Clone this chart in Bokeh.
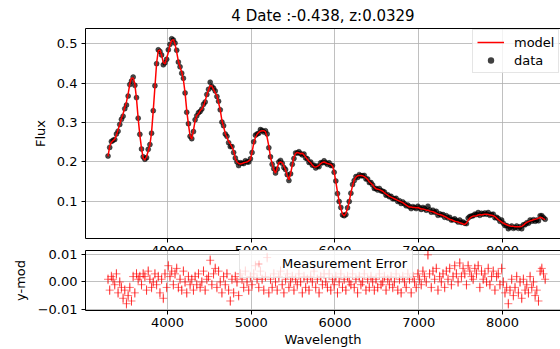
import numpy as np
from bokeh.plotting import figure
from bokeh.models import (Range1d, FixedTicker, LinearAxis, Legend, LegendItem,
                          Label, PrintfTickFormatter)
from bokeh.layouts import column
from bokeh.embed import file_html
from bokeh.resources import INLINE

# ---------------- data ----------------
wave_start = 3290
wave_step = 20

model_flux = [
    0.214, 0.240, 0.250, 0.254, 0.258, 0.268, 0.282, 0.295, 0.310, 0.322,
    0.338, 0.352, 0.372, 0.398, 0.412, 0.413, 0.398, 0.360, 0.310, 0.268,
    0.234, 0.210, 0.205, 0.214, 0.228, 0.243, 0.275, 0.330, 0.390, 0.450,
    0.482, 0.484, 0.470, 0.452, 0.448, 0.462, 0.478, 0.496, 0.508, 0.510,
    0.498, 0.478, 0.455, 0.440, 0.428, 0.408, 0.375, 0.330, 0.295, 0.266,
    0.258, 0.280, 0.305, 0.318, 0.322, 0.330, 0.334, 0.342, 0.355, 0.370,
    0.382, 0.394, 0.392, 0.384, 0.375, 0.368, 0.350, 0.332, 0.305, 0.290,
    0.272, 0.262, 0.252, 0.246, 0.238, 0.228, 0.208, 0.200, 0.196, 0.195,
    0.196, 0.198, 0.199, 0.200, 0.203, 0.206, 0.225, 0.248, 0.262, 0.270,
    0.275, 0.278, 0.279, 0.279, 0.277, 0.262, 0.240, 0.212, 0.196, 0.180,
    0.172, 0.185, 0.198, 0.200, 0.198, 0.190, 0.180, 0.165, 0.155, 0.170,
    0.192, 0.212, 0.222, 0.224, 0.223, 0.221, 0.222, 0.218, 0.212, 0.207,
    0.202, 0.198, 0.192, 0.188, 0.187, 0.189, 0.192, 0.196, 0.199, 0.200,
    0.198, 0.196, 0.195, 0.194, 0.190, 0.175, 0.150, 0.124, 0.100, 0.082,
    0.068, 0.063, 0.070, 0.082, 0.100, 0.122, 0.140, 0.155, 0.162, 0.165,
    0.166, 0.166, 0.165, 0.163, 0.160, 0.156, 0.150, 0.146, 0.142, 0.136,
    0.132, 0.131, 0.130, 0.128, 0.126, 0.122, 0.119, 0.116, 0.113, 0.111,
    0.109, 0.107, 0.105, 0.103, 0.101, 0.099, 0.097, 0.094, 0.091, 0.088,
    0.086, 0.086, 0.085, 0.085, 0.084, 0.085, 0.083, 0.081, 0.081, 0.080,
    0.078, 0.078, 0.076, 0.075, 0.074, 0.072, 0.070, 0.068, 0.067, 0.066,
    0.064, 0.062, 0.060, 0.057, 0.055, 0.054, 0.052, 0.050, 0.049, 0.048,
    0.046, 0.045, 0.043, 0.042, 0.045, 0.052, 0.058, 0.061, 0.063, 0.063,
    0.064, 0.066, 0.067, 0.066, 0.067, 0.068, 0.068, 0.067, 0.066, 0.065,
    0.064, 0.062, 0.058, 0.054, 0.051, 0.048, 0.045, 0.043, 0.041, 0.039,
    0.038, 0.037, 0.037, 0.036, 0.036, 0.036, 0.036, 0.037, 0.040, 0.044,
    0.047, 0.049, 0.051, 0.052, 0.054, 0.055, 0.056, 0.058, 0.060, 0.059,
    0.056, 0.054,
]

residual = [
    0.001, -0.003, 0.002, 0.001, -0.001, 0.003, -0.004, 0.000, -0.002, -0.006,
    -0.003, -0.008, -0.005, -0.002, -0.007, 0.002, -0.004, 0.003, 0.001, 0.002,
    -0.001, 0.003, 0.002, -0.003, 0.004, 0.001, -0.002, 0.000, 0.003, -0.001,
    0.002, -0.004, 0.001, -0.006, 0.003, -0.002, 0.006, 0.002, 0.004, -0.001,
    0.003, 0.005, -0.002, 0.001, -0.003, 0.004, 0.000, -0.004, 0.002, -0.001,
    0.001, -0.003, 0.002, -0.001, 0.003, -0.002, 0.000, 0.004, -0.003, 0.001,
    0.002, 0.008, -0.001, 0.003, 0.005, -0.002, 0.004, 0.000, -0.004, 0.002,
    -0.001, 0.003, -0.003, -0.007, 0.001, -0.004, 0.002, 0.000, -0.005, 0.003,
    0.001, -0.002, 0.004, 0.000, -0.003, 0.002, -0.001, 0.003, 0.006, 0.001,
    -0.002, 0.004, 0.001, -0.003, 0.002, 0.009, -0.004, 0.001, -0.002, 0.003,
    0.000, -0.003, 0.002, 0.004, -0.001, -0.004, 0.001, 0.003, -0.002, 0.000,
    0.002, -0.003, 0.001, -0.001, 0.003, 0.000, -0.004, 0.002, -0.002, 0.001,
    -0.003, 0.002, 0.000, 0.004, -0.002, 0.001, -0.004, 0.002, -0.001, 0.003,
    0.000, -0.002, 0.003, -0.003, 0.001, -0.001, 0.002, -0.004, 0.000, 0.003,
    -0.002, 0.001, -0.003, 0.002, 0.000, -0.001, 0.003, -0.002, 0.001, -0.004,
    0.002, -0.001, 0.000, 0.003, -0.003, 0.001, -0.002, 0.002, 0.000, -0.003,
    0.001, -0.002, 0.003, -0.001, 0.000, 0.002, -0.003, 0.001, -0.001, 0.002,
    -0.002, 0.000, 0.003, -0.003, 0.001, -0.004, 0.002, 0.000, -0.002, 0.003,
    0.001, -0.004, 0.002, 0.000, -0.002, 0.003, 0.001, -0.001, 0.004, 0.002,
    0.000, 0.010, 0.003, -0.002, 0.004, 0.001, 0.005, -0.003, 0.002, 0.000,
    0.003, -0.002, 0.004, 0.001, 0.005, -0.001, 0.002, 0.006, 0.003, 0.000,
    0.007, 0.002, 0.005, 0.003, -0.001, 0.006, 0.004, 0.002, 0.001, 0.005,
    0.003, 0.006, -0.002, 0.004, 0.001, 0.003, 0.000, 0.005, -0.001, 0.002,
    0.004, -0.003, 0.002, 0.003, -0.001, 0.005, 0.000, -0.004, -0.002, -0.008,
    -0.003, 0.001, -0.005, -0.002, 0.002, -0.004, 0.000, -0.006, 0.001, -0.003,
    -0.001, -0.004, 0.002, -0.002, 0.000, -0.005, -0.003, -0.007, 0.004, 0.005,
    0.003, 0.001,
]

meas_err = 0.0018
x_ticks = [4000, 5000, 6000, 7000, 8000]
flux_ticks = [0.1, 0.2, 0.3, 0.4, 0.5]
res_ticks = [-0.01, 0.0, 0.01]
title_text = "4 Date :-0.438, z:0.0329"

assert len(model_flux) == len(residual)
wave = wave_start + wave_step * np.arange(len(model_flux))
model = np.array(model_flux)
res = np.array(residual)
data_flux = model + res

FONT = "DejaVu Sans"
GRID = "#b0b0b0"
NAN = [float("nan")]  # legend-only renderers draw nothing in the plot


def style_axis(ax, standoff):
    ax.major_label_text_font = FONT
    ax.major_label_text_font_size = "13px"
    ax.major_label_text_color = "black"
    ax.axis_line_color = "black"
    ax.major_tick_line_color = "black"
    ax.major_tick_in = 0
    ax.major_tick_out = 4
    ax.minor_tick_line_color = None
    ax.major_label_standoff = standoff
    ax.axis_label_text_font = FONT
    ax.axis_label_text_font_size = "13px"
    ax.axis_label_text_font_style = "normal"
    ax.axis_label_text_color = "black"


def top_spine(p):
    ax = LinearAxis(ticker=FixedTicker(ticks=[]), major_tick_out=0, major_tick_in=0,
                    minor_tick_out=0, minor_tick_in=0, major_label_standoff=0,
                    axis_line_color="black", major_label_text_font_size="0px")
    p.add_layout(ax, "above")


x_range = Range1d(3021, 8693)

# ---------------- top panel ----------------
top = figure(width=560, height=262, x_range=x_range, y_range=Range1d(0.0063, 0.538),
             output_backend="svg", toolbar_location=None, title=title_text,
             min_border_left=85, min_border_right=0, min_border_top=28,
             min_border_bottom=24)
top.outline_line_color = None
top.background_fill_color = "white"
top.border_fill_color = "white"
top.title.text_font = FONT
top.title.text_font_size = "15px"
top.title.text_font_style = "normal"
top.title.text_color = "black"
top.title.align = "center"
top.title.offset = 0
top.title.standoff = 8

top.xaxis.ticker = FixedTicker(ticks=x_ticks)
top.yaxis.ticker = FixedTicker(ticks=flux_ticks)
style_axis(top.xaxis[0], 3)
style_axis(top.yaxis[0], 4)
top.yaxis.axis_label = "Flux"
top.yaxis.axis_label_standoff = 6
for g in (top.xgrid[0], top.ygrid[0]):
    g.grid_line_color = GRID
    g.grid_line_width = 0.8
top_spine(top)

top.segment(wave, data_flux - meas_err, wave, data_flux + meas_err,
            line_color="black", line_alpha=0.6, line_width=1)
top.scatter(wave, data_flux, size=5, marker="circle", fill_color="black",
            fill_alpha=0.7, line_color="black", line_alpha=0.4)
model_r = top.line(wave, model, line_color="red", line_width=1.5)

leg_dot = top.scatter(x=NAN, y=NAN, marker="circle", size=5, fill_color="black",
                      fill_alpha=0.75, line_color=None)

top_legend = Legend(items=[LegendItem(label="model", renderers=[model_r]),
                           LegendItem(label="data", renderers=[leg_dot])],
                    location=(387, 165), margin=0, padding=4, spacing=2,
                    glyph_width=27, glyph_height=16, label_height=16,
                    label_standoff=10, label_text_font=FONT,
                    label_text_font_size="13px", label_text_color="black",
                    border_line_color="#cccccc", border_line_width=1,
                    background_fill_alpha=0.8)
top.add_layout(top_legend)

# fragment of a neighbouring text at the far left edge
frag = Label(x=-2, y=155, x_units="canvas", y_units="canvas", text=")",
             text_font=FONT, text_font_size="28px", text_baseline="middle",
             text_align="left", text_color="black", level="overlay")
top.add_layout(frag)

# ---------------- bottom panel ----------------
bot = figure(width=560, height=105, x_range=x_range, y_range=Range1d(-0.0105, 0.0116),
             output_backend="svg", toolbar_location=None,
             min_border_left=85, min_border_right=0, min_border_top=6,
             min_border_bottom=37)
bot.margin = (-18, 0, 0, 0)
bot.outline_line_color = None
bot.background_fill_color = "white"
bot.border_fill_color = "white"
bot.border_fill_alpha = 0
bot.xaxis.ticker = FixedTicker(ticks=x_ticks)
bot.yaxis.ticker = FixedTicker(ticks=res_ticks)
bot.yaxis.formatter = PrintfTickFormatter(format="%.2f")
bot.yaxis.major_label_overrides = {-0.01: "\u22120.01"}
style_axis(bot.xaxis[0], 3)
style_axis(bot.yaxis[0], 4)
bot.xaxis.axis_label = "Wavelength"
bot.xaxis.axis_label_standoff = 2
bot.yaxis.axis_label = "y-mod"
bot.yaxis.axis_label_standoff = 7
for g in (bot.xgrid[0], bot.ygrid[0]):
    g.grid_line_color = GRID
    g.grid_line_width = 0.8
top_spine(bot)

bot.segment(wave, res - meas_err, wave, res + meas_err, line_color="red",
            line_alpha=0.55, line_width=1)
bot.scatter(wave, res, marker="cross", size=8, line_color="red", line_alpha=0.55,
            line_width=1)

leg_cross = bot.scatter(x=NAN, y=NAN, marker="cross", size=8, line_color="red",
                        line_alpha=0.35, line_width=1)
bot_legend = Legend(items=[LegendItem(label="Measurement Error",
                                      renderers=[leg_cross])],
                    location=(154, 32), margin=0, padding=5, spacing=0,
                    glyph_width=27, glyph_height=17, label_height=17,
                    label_standoff=10, label_text_font=FONT,
                    label_text_font_size="13px", label_text_color="black",
                    border_line_color="#cccccc", border_line_width=1,
                    background_fill_alpha=0.8)
bot.add_layout(bot_legend)

layout = column(top, bot, spacing=0)
open("out.html", "w").write(file_html(layout, INLINE))
